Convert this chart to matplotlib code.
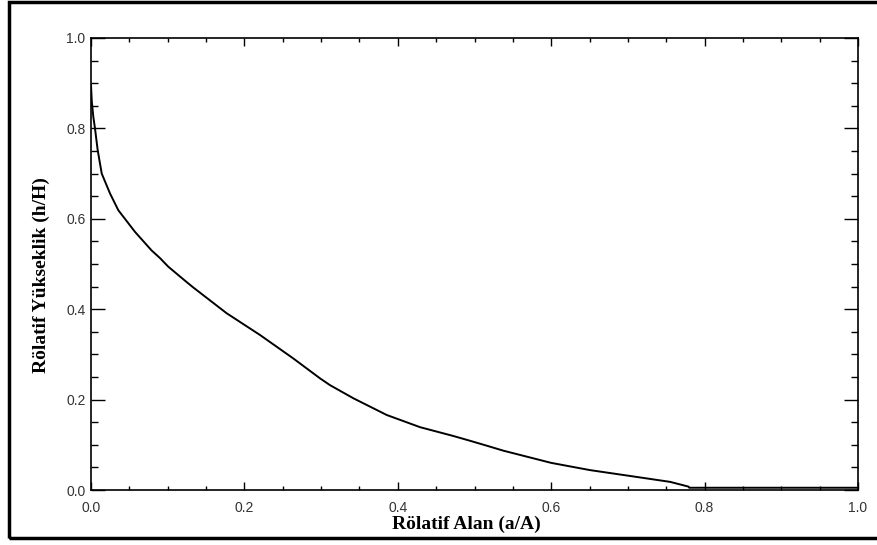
import matplotlib
matplotlib.use('Agg')
import matplotlib.pyplot as plt
from matplotlib.ticker import MultipleLocator
from matplotlib.patches import Rectangle

# hipsometrik egri (okunan degerler)
alan = [0.0, 0.001, 0.003, 0.0052, 0.0087, 0.014, 0.0248, 0.0356, 0.0574, 0.079,
        0.09, 0.1008, 0.1226, 0.1334, 0.1769, 0.2203, 0.2638, 0.2986, 0.3116, 0.342,
        0.3855, 0.429, 0.4724, 0.494, 0.52, 0.5376, 0.6, 0.6506, 0.703, 0.755,
        0.779, 0.78, 1.0]
yukseklik = [0.896, 0.86, 0.826, 0.80, 0.752, 0.70, 0.656, 0.619, 0.571, 0.530,
             0.513, 0.494, 0.463, 0.448, 0.391, 0.343, 0.291, 0.247, 0.232, 0.203,
             0.166, 0.139, 0.1195, 0.109, 0.096, 0.087, 0.060, 0.044, 0.031, 0.018,
             0.0075, 0.005, 0.005]

xlabel = 'Rölatif Alan (a/A)'
ylabel = 'Rölatif Yükseklik (h/H)'

fig = plt.figure(figsize=(8.77, 5.45), dpi=100)
ax = fig.add_axes([91/877, 1-490/545, 767/877, 452/545])

ax.plot(alan, yukseklik, color='black', lw=1.4)

ax.set_xlim(0, 1)
ax.set_ylim(0, 1)
ax.xaxis.set_major_locator(MultipleLocator(0.2))
ax.xaxis.set_minor_locator(MultipleLocator(0.05))
ax.yaxis.set_major_locator(MultipleLocator(0.2))
ax.yaxis.set_minor_locator(MultipleLocator(0.05))
ax.xaxis.set_major_formatter(plt.FormatStrFormatter('%.1f'))
ax.yaxis.set_major_formatter(plt.FormatStrFormatter('%.1f'))

ax.tick_params(axis='x', which='major', direction='in', length=6, width=1, top=True, pad=8)
ax.tick_params(axis='x', which='minor', direction='in', length=3, width=1, top=True)
ax.tick_params(axis='y', which='major', direction='in', length=10, width=1, right=True, pad=4)
ax.tick_params(axis='y', which='minor', direction='in', length=5, width=1, right=True)
ax.tick_params(labelsize=10, labelcolor='#333333')
for lab in ax.get_xticklabels() + ax.get_yticklabels():
    lab.set_family('Liberation Sans')
for s in ax.spines.values():
    s.set_linewidth(1.2)

ax.set_xlabel(xlabel, family='Liberation Serif', fontweight='bold', fontsize=14, va='center')
ax.set_ylabel(ylabel, family='Liberation Serif', fontweight='bold', fontsize=14, va='center')
ax.xaxis.set_label_coords(0.49, -0.077)
ax.yaxis.set_label_coords(-0.065, 0.476)

# dis cerceve
fig.patches.append(Rectangle((9/877, 7/545), 2, 536/545, transform=fig.transFigure,
                             fill=False, lw=2.5, edgecolor='black'))

fig.savefig('out.png', dpi=100)
